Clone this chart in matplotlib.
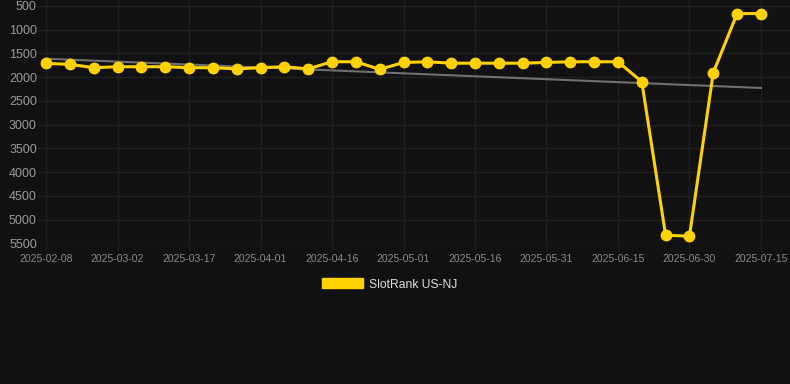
import numpy as np
import matplotlib.pyplot as plt
from matplotlib.patches import Patch

# weekly-ish snapshots, labels only shown on every 3rd point
dates = ["2025-02-08", "2025-02-15", "2025-02-25", "2025-03-02", "2025-03-07",
         "2025-03-12", "2025-03-17", "2025-03-22", "2025-03-27", "2025-04-01",
         "2025-04-06", "2025-04-11", "2025-04-16", "2025-04-21", "2025-04-26",
         "2025-05-01", "2025-05-06", "2025-05-11", "2025-05-16", "2025-05-21",
         "2025-05-26", "2025-05-31", "2025-06-05", "2025-06-10", "2025-06-15",
         "2025-06-20", "2025-06-25", "2025-06-30", "2025-07-05", "2025-07-10",
         "2025-07-15"]
ranks = [1710, 1730, 1800, 1780, 1780, 1780, 1800, 1800, 1825, 1800,
         1780, 1825, 1675, 1675, 1835, 1690, 1675, 1705, 1705, 1705,
         1705, 1690, 1675, 1675, 1675, 2095, 5330, 5350, 1905, 660,
         660]
yticks = [500, 1000, 1500, 2000, 2500, 3000, 3500, 4000, 4500, 5000, 5500]

bg = "#111111"
plt.rcParams['font.family'] = ['Liberation Sans', 'DejaVu Sans']

x = np.arange(len(dates))
slope, icpt = np.polyfit(x, ranks, 1)

fig = plt.figure(figsize=(7.9, 3.84), dpi=100, facecolor=bg)
ax = fig.add_axes([38 / 790, 1 - 243.3 / 384, 1 - 38 / 790, 243.3 / 384])
ax.set_facecolor(bg)

ax.plot(x, slope * x + icpt, color="#808080", lw=1.5, alpha=0.85, zorder=2)
ax.plot(x, ranks, color="#FFD200", lw=2.2, marker="o", markersize=7.5, zorder=3)

ax.set_xlim(-0.34, 31.22)
ax.set_ylim(5500, 374)
ax.set_yticks(yticks)
ax.set_yticklabels([str(v) for v in yticks])
ax.set_xticks(x[::3])
ax.set_xticklabels(dates[::3])

ax.tick_params(axis="y", length=0, pad=0.8, labelsize=9, labelcolor="#9a9a9a")
ax.tick_params(axis="x", length=6, color="#1f1f1f", pad=2, labelsize=7.5, labelcolor="#8a8a8a")
ax.grid(True, color="#202020", lw=1)
for s in ax.spines.values():
    s.set_visible(False)

leg = fig.legend(handles=[Patch(facecolor="#FFD200", edgecolor="#FFD200", label="SlotRank US-NJ")],
                 loc="center", bbox_to_anchor=(390 / 790, 1 - 284.5 / 384), frameon=False,
                 handlelength=3.4, handleheight=0.9, handletextpad=0.5, fontsize=8.7)
for t in leg.get_texts():
    t.set_color("#dddddd")

fig.savefig("out.png", dpi=100, facecolor=bg)
